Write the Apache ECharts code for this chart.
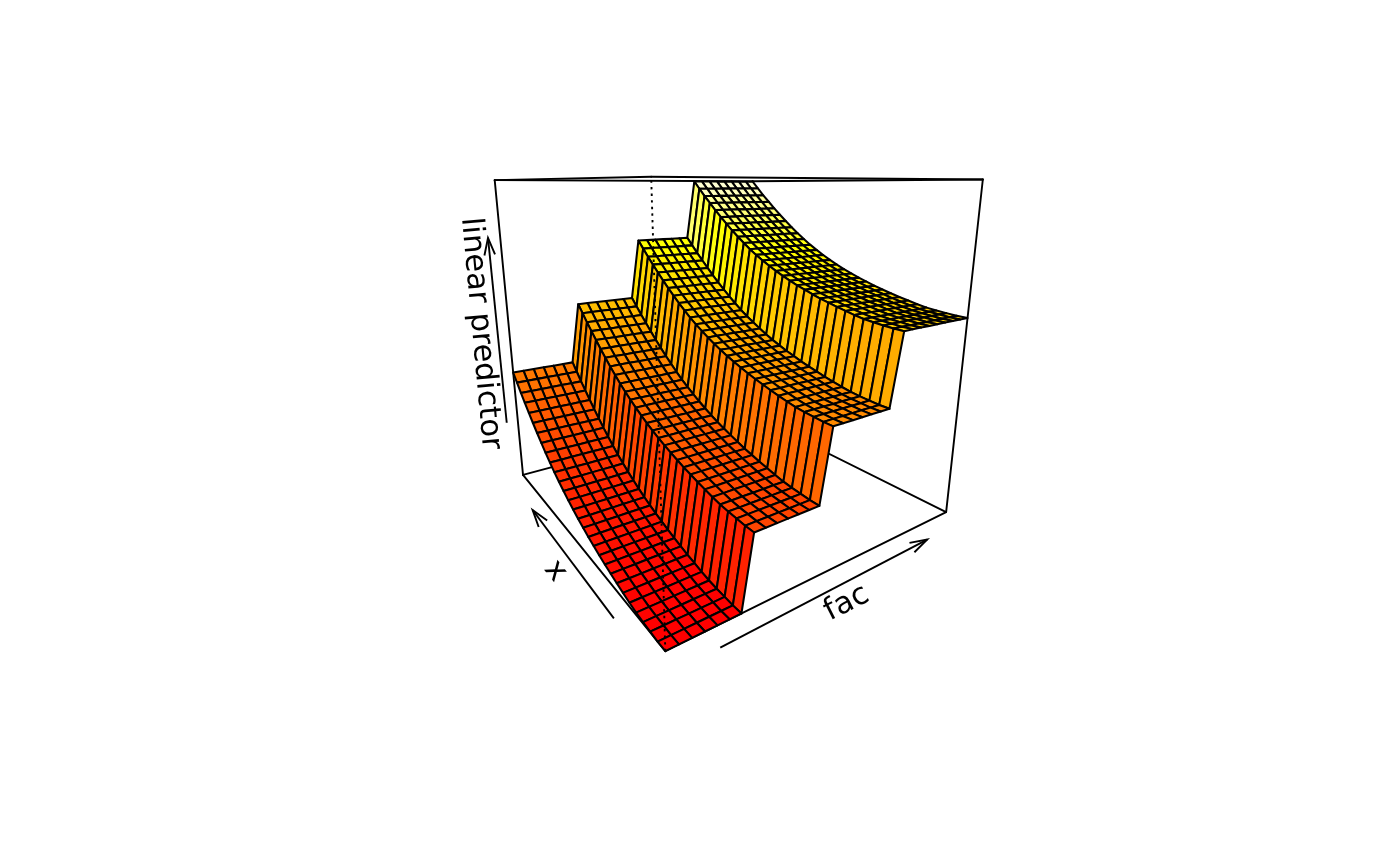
<!DOCTYPE html>
<html><head><meta charset="utf-8">
<style>html,body{margin:0;padding:0;background:#fff}#chart{width:1400px;height:866px}</style>
<script src="https://cdn.jsdelivr.net/npm/echarts@6/dist/echarts.min.js"></script>
</head><body><div id="chart"></div>
<script>
// ---- values (z on a 0..1 scale of the box height) ----
const facLevels = [0.000, 0.206, 0.413, 0.620];
const facRuns = [7, 7, 7, 9];               // grid points per factor level
const xEffect = [0.000,0.000,0.002,0.004,0.007,0.012,0.018,0.024,0.031,0.038,
                 0.046,0.055,0.064,0.074,0.085,0.097,0.110,0.124,0.139,0.155,
                 0.173,0.192,0.212,0.233,0.255,0.278,0.302,0.326,0.352,0.378];
const axisTitles = ['x', 'fac', 'linear predictor'];

// ---- view ----
const AZ = 0.9604, PHI = 0.2655, DIST = 3.6874, EXPAND = 0.9942;
const SCALE = 597.63, CX = 721.84, CY = 347.17, W = 1400, H = 866;
const FONT = '30.4px "DejaVu Sans"';
const BOX_LW = 1.9, MESH_LW = 2.05;

function project(u, v, w) {
  const x = 2*u-1, y = 2*v-1, z = (2*w-1)*EXPAND;
  const X = -Math.cos(AZ)*x + Math.sin(AZ)*y, D = Math.sin(AZ)*x + Math.cos(AZ)*y;
  const Y = z*Math.cos(PHI) + D*Math.sin(PHI), Z = D*Math.cos(PHI) - z*Math.sin(PHI) + DIST;
  return [X/Z, Y/Z];
}
const nCells = xEffect.length - 1;
const facOfGrid = [];
facRuns.forEach((n, k) => { for (let i = 0; i < n; i++) facOfGrid.push(facLevels[k]); });
const zAt = (i, j) => facOfGrid[j] + xEffect[i];
const zMax = zAt(nCells, nCells);

function heat(t) { // heat palette of 100 steps
  const k = Math.round(t*99);
  if (k < 75) return `rgb(255,${Math.round(255*k/74)},0)`;
  const s = 0.98 - (k-75)*0.04;
  return `rgb(255,255,${Math.round(255*(1-s))})`;
}
// far cells first, so that nearer ones paint over them
const cells = [];
for (let i = nCells-1; i >= 0; i--) for (let j = nCells-1; j >= 0; j--) cells.push([i, j]);

const backEdges = [
  [0,0,0,1,0,0],[1,0,0,1,1,0],[1,1,0,0,1,0],[0,1,0,0,0,0],
  [0,0,1,1,0,1],[1,0,1,1,1,1],[1,1,1,0,1,1],[0,1,1,0,0,1],
  [1,0,0,1,0,1],[0,1,0,0,1,1],[1,1,0,1,1,1]];
const frontEdges = [[0,0,0,0,0,1]];
const arrows = [[0.158,-0.048,0,0.748,-0.048,0],[-0.06,0.104,0,-0.06,0.826,0],[1,-0.037,0.206,1,-0.037,0.826]];
const titleSpots = [[0.41,-0.098,0,-0.90],[-0.118,0.438,0,0.47],[1,-0.090,0.526,-1.48]];

const edgeSeries = (data, dash, z) => ({
  type:'custom', coordinateSystem:'cartesian2d', data, z, silent:true, animation:false, clip:false,
  encode:{x:0,y:1},
  renderItem(p, api) {
    const a = api.coord(project(api.value(0),api.value(1),api.value(2)));
    const b = api.coord(project(api.value(3),api.value(4),api.value(5)));
    return {type:'line', shape:{x1:a[0],y1:a[1],x2:b[0],y2:b[1]},
      style:{stroke:'#000', lineWidth:BOX_LW, lineDash:dash||null, lineCap:dash?'butt':'round', fill:null}};
  }
});

const chart = echarts.init(document.getElementById('chart'), null, {renderer:'canvas', width:W, height:H});
chart.setOption({
  animation:false, backgroundColor:'#fff',
  grid:{left:0,right:0,top:0,bottom:0},
  xAxis:{type:'value',show:false,min:-CX/SCALE,max:(W-CX)/SCALE},
  yAxis:{type:'value',show:false,min:(CY-H)/SCALE,max:CY/SCALE},
  series:[
    edgeSeries(backEdges,null,1),
    { type:'custom', coordinateSystem:'cartesian2d', data:cells, z:2, silent:true, animation:false, clip:false,
      encode:{x:0,y:1},
      renderItem(p, api) {
        const i = api.value(0), j = api.value(1);
        const corners = [[i,j],[i+1,j],[i+1,j+1],[i,j+1]];
        const pts = corners.map(c => api.coord(project(c[0]/nCells, c[1]/nCells, zAt(c[0],c[1]))));
        const mean = corners.reduce((s,c)=>s+zAt(c[0],c[1]),0)/4/zMax*0.975;
        return {type:'polygon', shape:{points:pts},
          style:{fill:heat(mean), stroke:'#000', lineWidth:MESH_LW, lineJoin:'round'}};
      }},
    edgeSeries(frontEdges,[2.4,4.2],3),
    { type:'custom', coordinateSystem:'cartesian2d', data:arrows, z:4, silent:true, animation:false, clip:false,
      encode:{x:0,y:1},
      renderItem(p, api) {
        const a = api.coord(project(api.value(0),api.value(1),api.value(2)));
        const b = api.coord(project(api.value(3),api.value(4),api.value(5)));
        const t = Math.atan2(a[1]-b[1], a[0]-b[0]), L = 18, da = 0.3;
        const h1 = [b[0]+L*Math.cos(t+da), b[1]+L*Math.sin(t+da)], h2 = [b[0]+L*Math.cos(t-da), b[1]+L*Math.sin(t-da)];
        return {type:'group', children:[
          {type:'line', shape:{x1:a[0],y1:a[1],x2:b[0],y2:b[1]}, style:{stroke:'#000',lineWidth:BOX_LW,fill:null}},
          {type:'polyline', shape:{points:[h1,b,h2]}, style:{stroke:'#000',lineWidth:BOX_LW,fill:null}}]};
      }},
    { type:'custom', coordinateSystem:'cartesian2d', data:titleSpots.map((s,k)=>[...s,k]), z:5, silent:true, animation:false, clip:false,
      encode:{x:0,y:1},
      renderItem(p, api) {
        const c = api.coord(project(api.value(0),api.value(1),api.value(2)));
        return {type:'text', x:c[0], y:c[1], rotation:api.value(3),
          style:{text:axisTitles[api.value(4)], font:FONT, fill:'#000', align:'center', verticalAlign:'middle'}};
      }}
  ]
});
</script></body></html>
